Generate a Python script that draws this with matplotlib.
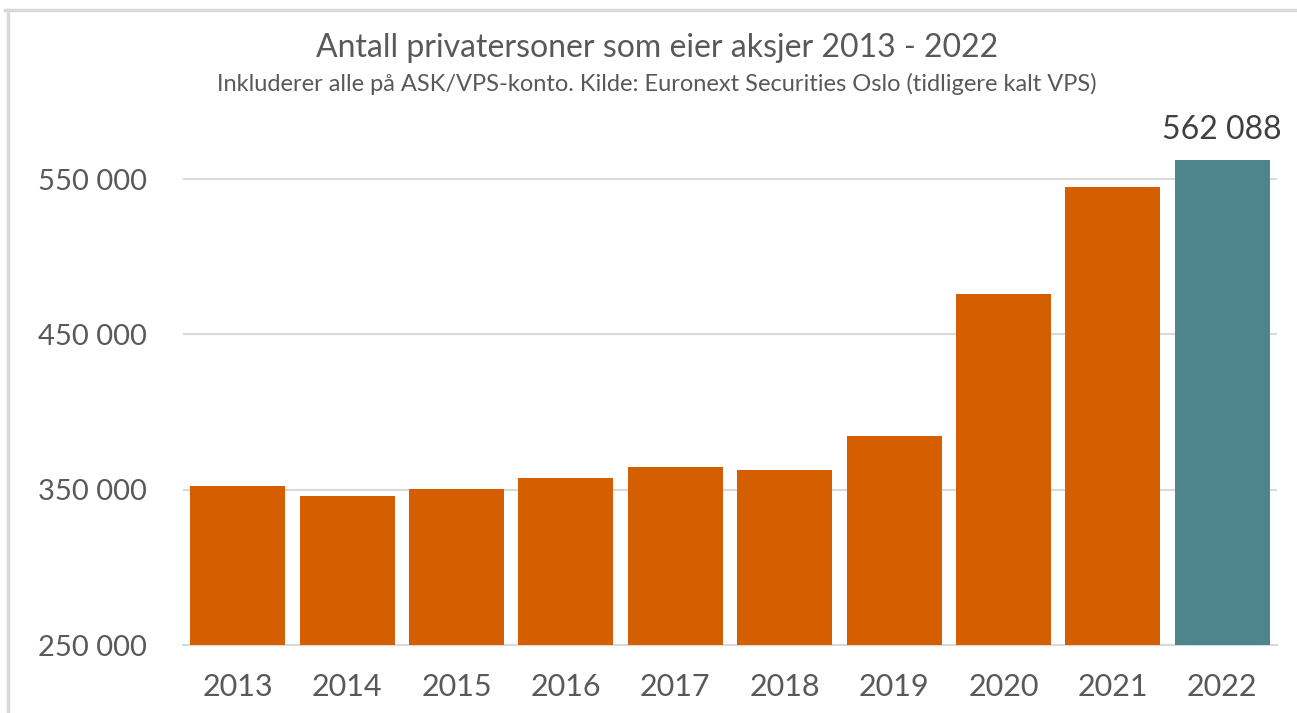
import matplotlib.pyplot as plt
from matplotlib.lines import Line2D
from matplotlib.ticker import FuncFormatter

years = ["2013", "2014", "2015", "2016", "2017", "2018", "2019", "2020", "2021", "2022"]
values = [352600, 346100, 350600, 357700, 364800, 362900, 384800, 476200, 545100, 562088]
yticks = [250000, 350000, 450000, 550000]

orange = "#D45E00"
teal = "#4E858C"
grey_txt = "#595959"

plt.rcParams["font.family"] = ["Lato", "DejaVu Sans"]

fig = plt.figure(figsize=(12.97, 7.13), dpi=100)
ax = fig.add_axes([183 / 1297, 1 - 645 / 713, 1094 / 1297, 497 / 713])

colors = [orange] * (len(years) - 1) + [teal]
ax.bar(range(len(years)), values, width=0.87, color=colors, zorder=3)

ax.set_xlim(-0.5, len(years) - 0.5)
ax.set_ylim(250000, 570000)
ax.set_yticks(yticks)
ax.yaxis.set_major_formatter(FuncFormatter(lambda v, p: f"{int(v):,}".replace(",", " ")))
ax.set_xticks(range(len(years)))
ax.set_xticklabels(years)
ax.grid(axis="y", color="#d9d9d9", linewidth=1.5, zorder=0)
for s in ["top", "right", "left"]:
    ax.spines[s].set_visible(False)
ax.spines["bottom"].set_color("#d9d9d9")
ax.spines["bottom"].set_linewidth(1.5)
ax.tick_params(length=0, colors=grey_txt)
ax.tick_params(axis="y", labelsize=21, pad=26)
ax.tick_params(axis="x", labelsize=22, pad=20)

# last value label
ax.annotate(f"{values[-1]:,}".replace(",", " "), (len(years) - 1, values[-1]),
            xytext=(0, 11), textcoords="offset points", ha="center", va="bottom",
            fontsize=23, color="#404040")

fig.text(657 / 1297, 1 - 48 / 713, "Antall privatersoner som eier aksjer 2013 - 2022",
         ha="center", va="center", fontsize=23, color=grey_txt)
fig.text(657 / 1297, 1 - 84 / 713,
         "Inkluderer alle på ASK/VPS-konto. Kilde: Euronext Securities Oslo (tidligere kalt VPS)",
         ha="center", va="center", fontsize=17, color=grey_txt)

# outer frame
fig.add_artist(Line2D([5 / 1297, 1], [1 - 10 / 713] * 2, color="#d9d9d9", lw=2.5,
                      transform=fig.transFigure))
fig.add_artist(Line2D([8 / 1297] * 2, [0, 1 - 10 / 713], color="#d9d9d9", lw=2.5,
                      transform=fig.transFigure))

fig.savefig("out.png", dpi=100)
